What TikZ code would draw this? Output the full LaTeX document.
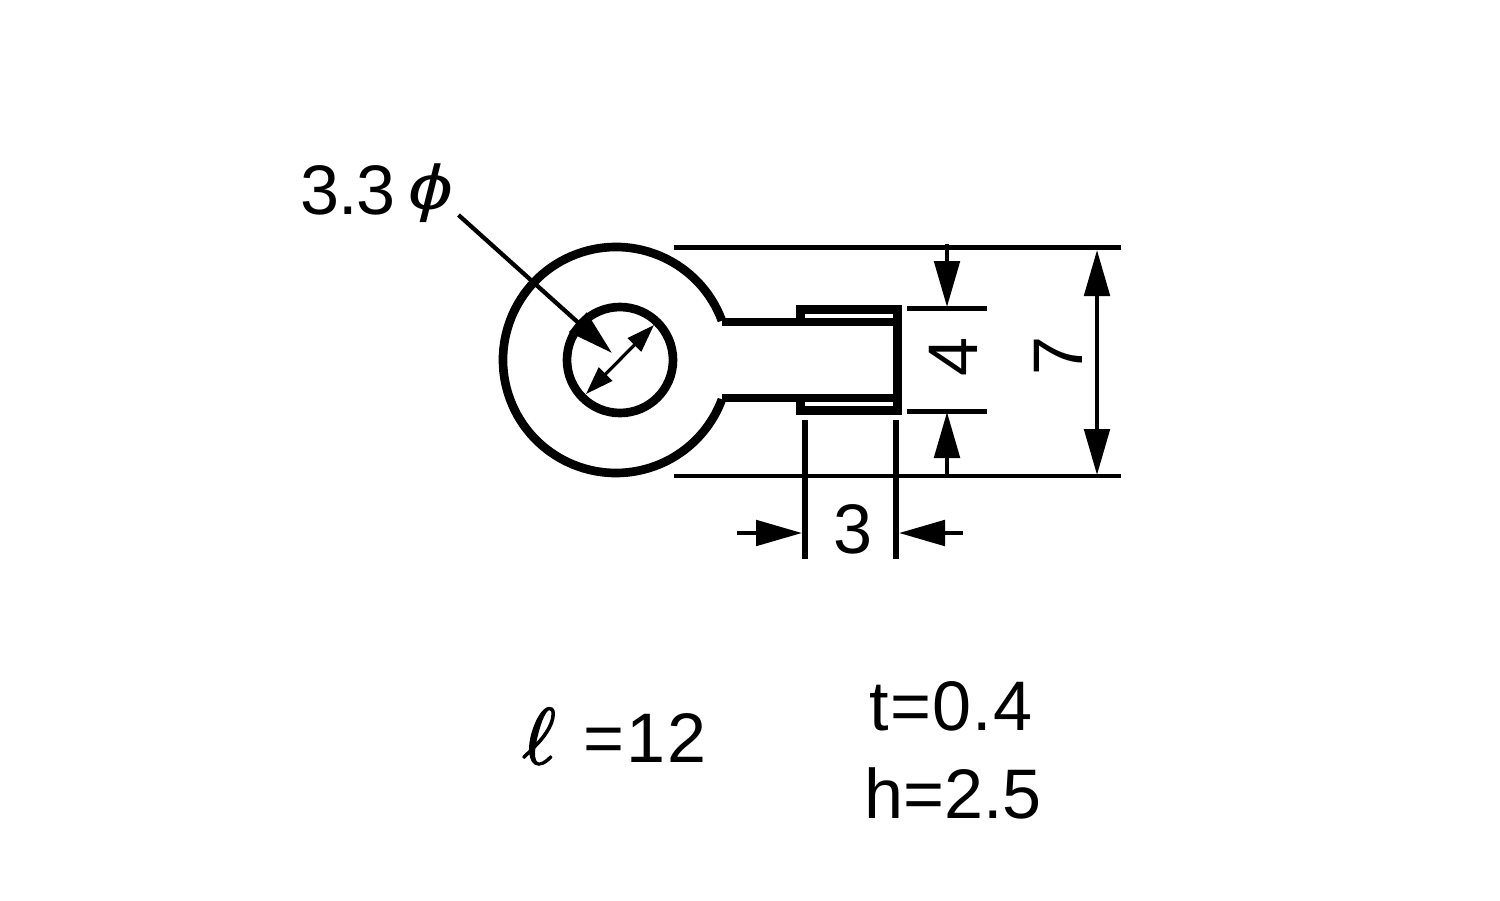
\documentclass[tikz,border=0pt]{standalone}
\usepackage{fontspec}
\setmainfont{Liberation Sans}
\usetikzlibrary{arrows.meta}
\newcommand{\heavy}[2]{\special{pdf:code q 2 Tr #1 w}#2\special{pdf:code Q}}
\tikzset{
  thick part/.style={line width=6.5pt,line cap=butt,line join=miter,draw=black},
  dim line/.style={line width=3.2pt,draw=black},
  ext line/.style={line width=3.4pt,draw=black},
  big tip/.tip={Triangle[length=34.5pt,width=19pt]},
  mid tip/.tip={Triangle[length=21pt,width=14pt]},
  lbl/.style={inner sep=0pt,outer sep=0pt,anchor=base,font=\fontsize{52.6}{60}\selectfont},
  mathlbl/.style={inner sep=0pt,outer sep=0pt,anchor=base}
}
\begin{document}
\begin{tikzpicture}[x=0.75pt,y=-0.75pt]
\useasboundingbox (0,0) rectangle (1500,900);
\fill[white] (0,0) rectangle (1500,900);
% ring
\draw[thick part] (721.9,320.6) arc[start angle=-20.4,end angle=-339.6,radius=113];
\draw[thick part] (620,360) circle[radius=53];
% stem and clip
\draw[thick part] (722,322) -- (895,322);
\draw[thick part] (722,398) -- (895,398);
\draw[thick part] (800.5,322) -- (800.5,309.5) -- (897.5,309.5) -- (897.5,410.5) -- (800.5,410.5) -- (800.5,398);
% extension lines
\coordinate (t1) at (674,247.5); \coordinate (t2) at (1121,247.5);
\coordinate (b1) at (674,476);   \coordinate (b2) at (1121,476);
\coordinate (u1) at (907,308.5); \coordinate (u2) at (987,308.5);
\coordinate (l1) at (907,411.5); \coordinate (l2) at (987,411.5);
\draw[ext line] (t1) -- (t2);
\draw[ext line] (b1) -- (b2);
\draw[ext line] (u1) -- (u2);
\draw[ext line] (l1) -- (l2);
\coordinate (v1a) at (804.7,420); \coordinate (v1b) at (804.7,559);
\coordinate (v2a) at (896.3,420); \coordinate (v2b) at (896.3,559);
\draw[line width=4.4pt] (v1a) -- (v1b);
\draw[line width=4.4pt] (v2a) -- (v2b);
% dimension 4
\coordinate (a4s) at (947,244); \coordinate (a4t) at (947,307);
\coordinate (b4s) at (947,476); \coordinate (b4t) at (947,412);
\draw[dim line,-{big tip}] (a4s) -- (a4t);
\draw[dim line,-{big tip}] (b4s) -- (b4t);
% dimension 7
\coordinate (a7a) at (1097,250); \coordinate (a7b) at (1097,475);
\draw[dim line,{big tip}-{big tip}] (a7a) -- (a7b);
% dimension 3
\coordinate (a3s) at (737,533); \coordinate (a3t) at (802,533);
\coordinate (b3s) at (963,533); \coordinate (b3t) at (899,533);
\draw[dim line,-{big tip}] (a3s) -- (a3t);
\draw[dim line,-{big tip}] (b3s) -- (b3t);
% leader and diameter
\coordinate (ls) at (458.5,215); \coordinate (lt) at (612,353);
\draw[dim line,-{big tip}] (ls) -- (lt);
\coordinate (da) at (654,325); \coordinate (db) at (586,394);
\draw[line width=2.4pt,{mid tip}-{mid tip}] (da) -- (db);
% labels
\node[lbl] (n33) at (348,214) {\addfontfeature{LetterSpace=-1.5}3.3};
\node[lbl,xscale=1.15,yscale=0.9] (nphi) at (431,209) {\itshape ϕ};
\node[lbl] (n3) at (853,553) {3};
\node[lbl,rotate=90,anchor=base] (n4) at (977,357) {4};
\node[lbl,rotate=90,anchor=base] (n7) at (1082,356) {7};
\node[mathlbl,scale=6] (nell) at (539,764) {\heavy{0.2}{$\ell$}};
\node[lbl] (n12) at (645,762) {\addfontfeature{LetterSpace=3}=12};
\node[lbl] (nt) at (951,730) {\addfontfeature{LetterSpace=1.5}t=0.4};
\node[lbl] (nh) at (953,818) {h=2.5};
\end{tikzpicture}
\end{document}
